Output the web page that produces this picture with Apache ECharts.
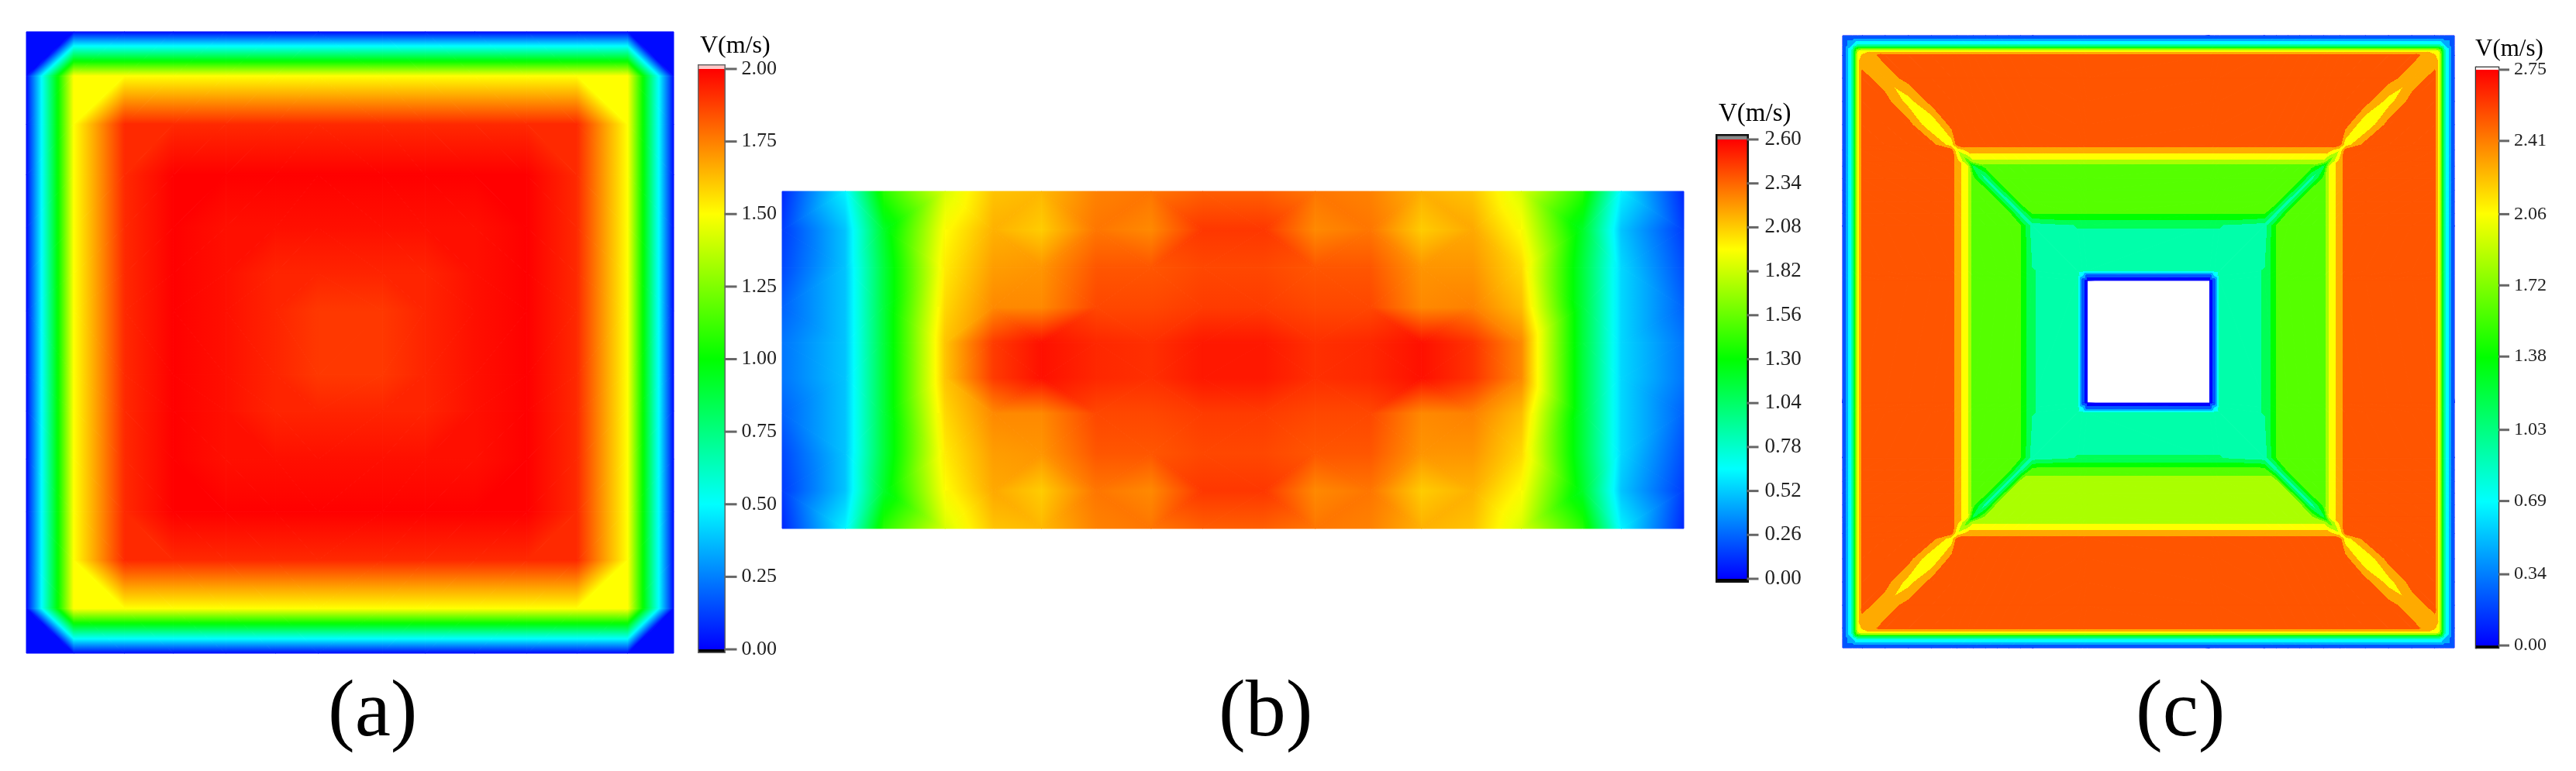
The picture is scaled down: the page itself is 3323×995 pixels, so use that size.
<!DOCTYPE html>
<html>
<head>
<meta charset="utf-8">
<title>V(m/s)</title>
<script src="https://cdn.jsdelivr.net/npm/echarts@6/dist/echarts.min.js"></script>
<style>
  html, body { margin: 0; background: #fff; }
  #chart { width: 3323px; height: 995px; filter: blur(0.7px); }
</style>
</head>
<body>
<div id="chart"></div>
<script>
// colour scale shared by the three panels
const JET = ['#0000ff', '#00ffff', '#00ff00', '#ffff00', '#ff0000'];

// colour bar ticks
const A_TICKS = [0, 0.25, 0.5, 0.75, 1, 1.25, 1.5, 1.75, 2];
const B_TICKS = [0, 0.26, 0.52, 0.78, 1.04, 1.3, 1.56, 1.82, 2.08, 2.34, 2.6];
const C_TICKS = [0, 0.34, 0.69, 1.03, 1.38, 1.72, 2.06, 2.41, 2.75];

// panel (a): mesh lines and nodal velocity
const A_XS = [55, 155, 262, 365, 475, 580, 670, 805, 895, 1000, 1110, 1215, 1322, 1419];
const A_YS = [33, 125, 225, 330, 440, 535, 612, 745, 820, 920, 1030, 1130, 1230, 1323];
const A_V = [
  [.02,.02,.02,.02,.02,.02,.02,.02,.02,.02,.02,.02,.02,.02],
  [.02,1.5,1.5,1.5,1.5,1.5,1.5,1.5,1.5,1.5,1.5,1.5,1.5,.02],
  [.02,1.5,1.92,1.92,1.92,1.92,1.92,1.92,1.92,1.92,1.92,1.92,1.5,.02],
  [.02,1.5,1.92,2,2,2,2,2,2,2,2,1.92,1.5,.02],
  [.02,1.5,1.92,2,1.97,1.97,1.97,1.97,1.97,1.97,2,1.92,1.5,.02],
  [.02,1.5,1.92,2,1.97,1.93,1.93,1.93,1.93,1.97,2,1.92,1.5,.02],
  [.02,1.5,1.92,2,1.97,1.93,1.89,1.89,1.93,1.97,2,1.92,1.5,.02],
  [.02,1.5,1.92,2,1.97,1.93,1.89,1.89,1.93,1.97,2,1.92,1.5,.02],
  [.02,1.5,1.92,2,1.97,1.93,1.93,1.93,1.93,1.97,2,1.92,1.5,.02],
  [.02,1.5,1.92,2,1.97,1.97,1.97,1.97,1.97,1.97,2,1.92,1.5,.02],
  [.02,1.5,1.92,2,2,2,2,2,2,2,2,1.92,1.5,.02],
  [.02,1.5,1.92,1.92,1.92,1.92,1.92,1.92,1.92,1.92,1.92,1.92,1.5,.02],
  [.02,1.5,1.5,1.5,1.5,1.5,1.5,1.5,1.5,1.5,1.5,1.5,1.5,.02],
  [.02,.02,.02,.02,.02,.02,.02,.02,.02,.02,.02,.02,.02,.02]
];

// panel (b)
const B_XS = [37, 135, 195, 290, 365, 440, 525, 610, 690, 785, 865, 950, 1030, 1110, 1185, 1280, 1340, 1437];
const B_YS = [258, 345, 430, 520, 600, 680, 760, 850, 935, 1020];
const B_V = [
  [.1,.62,1.4,1.85,2.1,2.13,2.27,2.3,2.36,2.36,2.3,2.27,2.15,2.1,1.85,1.4,.62,.1],
  [.15,.5,1.2,1.95,2.15,2.08,2.3,2.25,2.46,2.46,2.25,2.3,2.08,2.17,1.95,1.2,.5,.15],
  [.18,.5,1.15,2,2.2,2.22,2.38,2.38,2.42,2.42,2.38,2.38,2.22,2.22,2.05,1.15,.55,.2],
  [.25,.5,1.15,2.05,2.25,2.25,2.42,2.42,2.45,2.45,2.42,2.42,2.25,2.27,2.12,1.15,.55,.25],
  [.3,.5,1.15,2.1,2.45,2.56,2.5,2.48,2.54,2.54,2.48,2.5,2.56,2.47,2.25,1.15,.55,.3],
  [.3,.5,1.15,2.1,2.45,2.56,2.5,2.48,2.54,2.54,2.48,2.5,2.56,2.47,2.25,1.15,.55,.3],
  [.25,.5,1.15,2.05,2.25,2.25,2.42,2.42,2.45,2.45,2.42,2.42,2.25,2.27,2.12,1.15,.55,.25],
  [.18,.5,1.15,2,2.2,2.22,2.38,2.38,2.42,2.42,2.38,2.38,2.22,2.22,2.05,1.15,.55,.2],
  [.15,.5,1.2,1.95,2.17,2.08,2.3,2.25,2.46,2.46,2.25,2.3,2.08,2.15,1.95,1.2,.5,.15],
  [.1,.62,1.4,1.85,2.1,2.13,2.27,2.3,2.36,2.36,2.3,2.27,2.15,2.1,1.85,1.4,.62,.1]
];

// panel (c): lines measured from the centre of the square, hole in the middle cell
const C_XS = [-394.5,-382,-375,-369.5,-340,-310,-280,-254,-247,-233,-226,-210,-195,-180,-165,-150,-92,-85,-79,
              79,85,92,150,165,180,195,210,226,233,247,254,280,310,340,369.5,375,382,394.5];
const C_YS = C_XS;
const C_HOLE = [18, 18];
const C_V = [
  [.1,.1,.1,.1,.1,.1,.1,.1,.1,.1, .1,.1,.1,.1,.1,.1,.1,.1,.1,.1, .1,.1,.1,.1,.1,.1,.1,.1,.1,.1, .1,.1,.1,.1,.1,.1,.1,.1],
  [.1,.6, .9,.9,.9,.9,.9,.9,.9,.9,.9,.9, .9,.9,.9,.9,.9,.9,.9,.9,.9,.9, .9,.9,.9,.9,.9,.9,.9,.9,.9,.9, .9,.9,.9,.9, .6,.1],
  [.1,.9,1.9, 2.06,2.06,2.06,2.06,2.06,2.06,2.06,2.06,2.06,2.06, 2.06,2.06,2.06,2.06,2.06,2.06,2.06,2.06,2.06,2.06, 2.06,2.06,2.06,2.06,2.06,2.06,2.06,2.06,2.06,2.06, 2.06,2.06, 1.9,.9,.1],
  [.1,.9,2.06,2.2, 2.52,2.52,2.52,2.52,2.52,2.52,2.52,2.52,2.52,2.52, 2.52,2.52,2.52,2.52,2.52,2.52,2.52,2.52,2.52,2.52, 2.52,2.52,2.52,2.52,2.52,2.52,2.52,2.52,2.52,2.52, 2.2,2.06,.9,.1],
  [.1,.9,2.06,2.52,2.25, 2.52,2.52,2.52,2.52,2.52,2.52,2.52,2.52,2.52,2.52, 2.52,2.52,2.52,2.52,2.52,2.52,2.52,2.52,2.52,2.52, 2.52,2.52,2.52,2.52,2.52,2.52,2.52,2.52, 2.25,2.52,2.06,.9,.1],
  [.1,.9,2.06,2.52,2.52,2.08, 2.52,2.52,2.52,2.52,2.52,2.52,2.52,2.52,2.52,2.52, 2.52,2.52,2.52,2.52,2.52,2.52,2.52,2.52,2.52,2.52, 2.52,2.52,2.52,2.52,2.52,2.52, 2.08,2.52,2.52,2.06,.9,.1],
  [.1,.9,2.06,2.52,2.52,2.52,1.95, 2.52,2.52,2.52,2.52,2.52,2.52,2.52,2.52,2.52,2.52, 2.52,2.52,2.52,2.52,2.52,2.52,2.52,2.52,2.52,2.52, 2.52,2.52,2.52,2.52, 1.95,2.52,2.52,2.52,2.06,.9,.1],
  [.1,.9,2.06,2.52,2.52,2.52,2.52,2.05, 2.52,2.52,2.52,2.52,2.52,2.52,2.52,2.52,2.52,2.52, 2.52,2.52,2.52,2.52,2.52,2.52,2.52,2.52,2.52,2.52, 2.52,2.52, 2.05,2.52,2.52,2.52,2.52,2.06,.9,.1],
  [.1,.9,2.06,2.52,2.52,2.52,2.52,2.52,2, 2.29,2.29,2.29,2.29,2.29,2.29,2.29,2.29,2.29,2.29, 2.29,2.29,2.29,2.29,2.29,2.29,2.29,2.29,2.29,2.29, 2,2.52,2.52,2.52,2.52,2.52,2.06,.9,.1],
  [.1,.9,2.06,2.52,2.52,2.52,2.52,2.52,2.29,1.6, 1.9,1.9,1.9,1.9,1.9,1.9,1.9,1.9,1.9, 1.9,1.9,1.9,1.9,1.9,1.9,1.9,1.9,1.9, 1.6,2.29,2.52,2.52,2.52,2.52,2.52,2.06,.9,.1],
  [.1,.9,2.06,2.52,2.52,2.52,2.52,2.52,2.29,2,1.2, 1.6,1.6,1.6,1.6,1.6,1.6,1.6,1.6, 1.6,1.6,1.6,1.6,1.6,1.6,1.6,1.6, 1.2,2,2.29,2.52,2.52,2.52,2.52,2.52,2.06,.9,.1],
  [.1,.9,2.06,2.52,2.52,2.52,2.52,2.52,2.29,2,1.6,.95, 1.6,1.6,1.6,1.6,1.6,1.6,1.6, 1.6,1.6,1.6,1.6,1.6,1.6,1.6, .95,1.6,2,2.29,2.52,2.52,2.52,2.52,2.52,2.06,.9,.1],
  [.1,.9,2.06,2.52,2.52,2.52,2.52,2.52,2.29,2,1.6,1.6,.95, 1.6,1.6,1.6,1.6,1.6,1.6, 1.6,1.6,1.6,1.6,1.6,1.6, .95,1.6,1.6,2,2.29,2.52,2.52,2.52,2.52,2.52,2.06,.9,.1],
  [.1,.9,2.06,2.52,2.52,2.52,2.52,2.52,2.29,2,1.6,1.6,1.6,.92, 1.6,1.6,1.6,1.6,1.6, 1.6,1.6,1.6,1.6,1.6, .92,1.6,1.6,1.6,2,2.29,2.52,2.52,2.52,2.52,2.52,2.06,.9,.1],
  [.1,.9,2.06,2.52,2.52,2.52,2.52,2.52,2.29,2,1.6,1.6,1.6,1.6,.92, 1.5,1.5,1.5,1.5, 1.5,1.5,1.5,1.5, .92,1.6,1.6,1.6,1.6,2,2.29,2.52,2.52,2.52,2.52,2.52,2.06,.9,.1],
  [.1,.9,2.06,2.52,2.52,2.52,2.52,2.52,2.29,2,1.6,1.6,1.6,1.6,1.5,.92, 1.04,1.04,1.04, 1.04,1.04,1.04, .92,1.5,1.6,1.6,1.6,1.6,2,2.29,2.52,2.52,2.52,2.52,2.52,2.06,.9,.1],
  [.1,.9,2.06,2.52,2.52,2.52,2.52,2.52,2.29,2,1.6,1.6,1.6,1.6,1.5,1.04,.92, .92,.92, .92,.92, .92,1.04,1.5,1.6,1.6,1.6,1.6,2,2.29,2.52,2.52,2.52,2.52,2.52,2.06,.9,.1],
  [.1,.9,2.06,2.52,2.52,2.52,2.52,2.52,2.29,2,1.6,1.6,1.6,1.6,1.5,1.04,.92,.6, .15, .15, .6,.92,1.04,1.5,1.6,1.6,1.6,1.6,2,2.29,2.52,2.52,2.52,2.52,2.52,2.06,.9,.1],
  [.1,.9,2.06,2.52,2.52,2.52,2.52,2.52,2.29,2,1.6,1.6,1.6,1.6,1.5,1.04,.92,.15,.05, .05,.15,.92,1.04,1.5,1.6,1.6,1.6,1.6,2,2.29,2.52,2.52,2.52,2.52,2.52,2.06,.9,.1],
  [.1,.9,2.06,2.52,2.52,2.52,2.52,2.52,2.29,2,1.6,1.6,1.6,1.6,1.5,1.04,.92,.15,.05, .05,.15,.92,1.04,1.5,1.6,1.6,1.6,1.6,2,2.29,2.52,2.52,2.52,2.52,2.52,2.06,.9,.1],
  [.1,.9,2.06,2.52,2.52,2.52,2.52,2.52,2.29,2,1.6,1.6,1.6,1.6,1.5,1.04,.92,.6, .15, .15, .6,.92,1.04,1.5,1.6,1.6,1.6,1.6,2,2.29,2.52,2.52,2.52,2.52,2.52,2.06,.9,.1],
  [.1,.9,2.06,2.52,2.52,2.52,2.52,2.52,2.29,2,1.6,1.6,1.6,1.6,1.5,1.04,.92, .92,.92, .92,.92, .92,1.04,1.5,1.6,1.6,1.6,1.6,2,2.29,2.52,2.52,2.52,2.52,2.52,2.06,.9,.1],
  [.1,.9,2.06,2.52,2.52,2.52,2.52,2.52,2.29,2,1.6,1.6,1.6,1.6,1.5,.92, 1.04,1.04,1.04, 1.04,1.04,1.04, .92,1.5,1.6,1.6,1.6,1.6,2,2.29,2.52,2.52,2.52,2.52,2.52,2.06,.9,.1],
  [.1,.9,2.06,2.52,2.52,2.52,2.52,2.52,2.29,2,1.6,1.6,1.6,1.6,.92, 1.6,1.6,1.6,1.6, 1.6,1.6,1.6,1.6, .92,1.6,1.6,1.6,1.6,2,2.29,2.52,2.52,2.52,2.52,2.52,2.06,.9,.1],
  [.1,.9,2.06,2.52,2.52,2.52,2.52,2.52,2.29,2,1.6,1.6,1.6,.92, 1.83,1.83,1.83,1.83,1.83, 1.83,1.83,1.83,1.83,1.83, .92,1.6,1.6,1.6,2,2.29,2.52,2.52,2.52,2.52,2.52,2.06,.9,.1],
  [.1,.9,2.06,2.52,2.52,2.52,2.52,2.52,2.29,2,1.6,1.6,.95, 1.83,1.83,1.83,1.83,1.83,1.83, 1.83,1.83,1.83,1.83,1.83,1.83, .95,1.6,1.6,2,2.29,2.52,2.52,2.52,2.52,2.52,2.06,.9,.1],
  [.1,.9,2.06,2.52,2.52,2.52,2.52,2.52,2.29,2,1.6,.95, 1.83,1.83,1.83,1.83,1.83,1.83,1.83, 1.83,1.83,1.83,1.83,1.83,1.83,1.83, .95,1.6,2,2.29,2.52,2.52,2.52,2.52,2.52,2.06,.9,.1],
  [.1,.9,2.06,2.52,2.52,2.52,2.52,2.52,2.29,2,1.2, 1.83,1.83,1.83,1.83,1.83,1.83,1.83,1.83, 1.83,1.83,1.83,1.83,1.83,1.83,1.83,1.83, 1.2,2,2.29,2.52,2.52,2.52,2.52,2.52,2.06,.9,.1],
  [.1,.9,2.06,2.52,2.52,2.52,2.52,2.52,2.29,1.6, 1.9,1.9,1.9,1.9,1.9,1.9,1.9,1.9,1.9, 1.9,1.9,1.9,1.9,1.9,1.9,1.9,1.9,1.9, 1.6,2.29,2.52,2.52,2.52,2.52,2.52,2.06,.9,.1],
  [.1,.9,2.06,2.52,2.52,2.52,2.52,2.52,2, 2.29,2.29,2.29,2.29,2.29,2.29,2.29,2.29,2.29,2.29, 2.29,2.29,2.29,2.29,2.29,2.29,2.29,2.29,2.29,2.29, 2,2.52,2.52,2.52,2.52,2.52,2.06,.9,.1],
  [.1,.9,2.06,2.52,2.52,2.52,2.52,2.05, 2.52,2.52,2.52,2.52,2.52,2.52,2.52,2.52,2.52,2.52, 2.52,2.52,2.52,2.52,2.52,2.52,2.52,2.52,2.52,2.52, 2.52,2.52, 2.05,2.52,2.52,2.52,2.52,2.06,.9,.1],
  [.1,.9,2.06,2.52,2.52,2.52,1.95, 2.52,2.52,2.52,2.52,2.52,2.52,2.52,2.52,2.52,2.52, 2.52,2.52,2.52,2.52,2.52,2.52,2.52,2.52,2.52,2.52, 2.52,2.52,2.52,2.52, 1.95,2.52,2.52,2.52,2.06,.9,.1],
  [.1,.9,2.06,2.52,2.52,2.08, 2.52,2.52,2.52,2.52,2.52,2.52,2.52,2.52,2.52,2.52, 2.52,2.52,2.52,2.52,2.52,2.52,2.52,2.52,2.52,2.52, 2.52,2.52,2.52,2.52,2.52,2.52, 2.08,2.52,2.52,2.06,.9,.1],
  [.1,.9,2.06,2.52,2.25, 2.52,2.52,2.52,2.52,2.52,2.52,2.52,2.52,2.52,2.52, 2.52,2.52,2.52,2.52,2.52,2.52,2.52,2.52,2.52,2.52, 2.52,2.52,2.52,2.52,2.52,2.52,2.52,2.52, 2.25,2.52,2.06,.9,.1],
  [.1,.9,2.06,2.2, 2.52,2.52,2.52,2.52,2.52,2.52,2.52,2.52,2.52,2.52, 2.52,2.52,2.52,2.52,2.52,2.52,2.52,2.52,2.52,2.52, 2.52,2.52,2.52,2.52,2.52,2.52,2.52,2.52,2.52,2.52, 2.2,2.06,.9,.1],
  [.1,.9,1.9, 2.06,2.06,2.06,2.06,2.06,2.06,2.06,2.06,2.06,2.06, 2.06,2.06,2.06,2.06,2.06,2.06,2.06,2.06,2.06,2.06, 2.06,2.06,2.06,2.06,2.06,2.06,2.06,2.06,2.06,2.06, 2.06,2.06, 1.9,.9,.1],
  [.1,.6, .9,.9,.9,.9,.9,.9,.9,.9,.9,.9, .9,.9,.9,.9,.9,.9,.9,.9,.9,.9, .9,.9,.9,.9,.9,.9,.9,.9,.9,.9, .9,.9,.9,.9, .6,.1],
  [.1,.1,.1,.1,.1,.1,.1,.1,.1,.1, .1,.1,.1,.1,.1,.1,.1,.1,.1,.1, .1,.1,.1,.1,.1,.1,.1,.1,.1,.1, .1,.1,.1,.1,.1,.1,.1,.1]
];

const panels = [
  { xs: A_XS, ys: A_YS, v: A_V, ticks: A_TICKS, split: 'across', levels: 0,
    rect: { left: 34, top: 41, width: 835, height: 802 },
    bar: { left: 901.5, top: 84.5, width: 33, height: 757, over: 0.012, under: 0.0093, frame: '#666', frameWidth: 3, cap: '#ffc8c8' },
    fontSize: 26, tickLen: 16, labelGap: 22,
    name: { text: 'V(m/s)', left: 903, top: 44, size: 32 },
    tag: { text: '(a)', left: 423, top: 870 } },
  { xs: B_XS, ys: B_YS, v: B_V, ticks: B_TICKS, split: 'jack', levels: 0,
    rect: { left: 1009, top: 247, width: 1163, height: 435 },
    bar: { left: 2215.5, top: 175.5, width: 38, height: 574, over: 0.0206, under: 0.0115, frame: '#111', frameWidth: 5, cap: '#888' },
    fontSize: 27, tickLen: 15, labelGap: 23,
    name: { text: 'V(m/s)', left: 2217, top: 131, size: 33 },
    tag: { text: '(b)', left: 1572, top: 870 } },
  { xs: C_XS, ys: C_YS, v: C_V, ticks: C_TICKS, split: 'along', levels: 12, hole: C_HOLE,
    rect: { left: 2377, top: 46, width: 789, height: 790 },
    bar: { left: 3194, top: 87, width: 29, height: 749, over: 0.011, under: 0.011, frame: '#333', frameWidth: 2.5, cap: '#fff' },
    fontSize: 24, tickLen: 14, labelGap: 20,
    name: { text: 'V(m/s)', left: 3193, top: 48, size: 31 },
    tag: { text: '(c)', left: 2755, top: 870 } }
];

const FONT = '"Liberation Serif", serif';

// true when the cell is cut from its top-left node to its bottom-right node
function cutsMainDiagonal(i, j, nx, ny, rule) {
  const left = i + 0.5 < (nx - 1) / 2;
  const top = j + 0.5 < (ny - 1) / 2;
  const radial = left === top;
  if (rule === 'along') return radial;
  if (rule === 'across') return !radial;
  const ci = Math.min(i, nx - 2 - i);
  const cj = Math.min(j, ny - 2 - j);
  return (ci + cj) % 2 === 0 ? !radial : radial;
}

function colorOf(t, levels) {
  if (levels) t = Math.round(t * levels) / levels;
  return echarts.color.lerp(Math.min(1, Math.max(0, t)), JET);
}

function rampStops(lo, hi, max, levels) {
  const stops = [];
  if (levels) {
    stops.push({ offset: 0, color: colorOf(lo / max, levels) });
    for (let k = 0; k < levels; k++) {
      const edge = (k + 0.5) / levels * max;
      if (edge > lo && edge < hi) {
        const offset = (edge - lo) / (hi - lo);
        stops.push({ offset: offset, color: colorOf(k / levels, levels) });
        stops.push({ offset: offset, color: colorOf((k + 1) / levels, levels) });
      }
    }
    stops.push({ offset: 1, color: colorOf(hi / max, levels) });
  } else {
    const n = Math.ceil((hi - lo) / max * 32) + 1;
    for (let s = 0; s <= n; s++) {
      stops.push({ offset: s / n, color: colorOf((lo + (hi - lo) * s / n) / max, 0) });
    }
  }
  return stops;
}

// nodal values are linear over a triangle, so one linear gradient paints it exactly
function triangle(pts, vals, max, levels) {
  const lo = Math.min(vals[0], vals[1], vals[2]);
  const hi = Math.max(vals[0], vals[1], vals[2]);
  let fill;
  if (hi - lo < 1e-6) {
    fill = colorOf(lo / max, levels);
  } else {
    const [p0, p1, p2] = pts;
    const det = (p1[0] - p0[0]) * (p2[1] - p0[1]) - (p2[0] - p0[0]) * (p1[1] - p0[1]);
    const gx = ((vals[1] - vals[0]) * (p2[1] - p0[1]) - (vals[2] - vals[0]) * (p1[1] - p0[1])) / det;
    const gy = ((p1[0] - p0[0]) * (vals[2] - vals[0]) - (p2[0] - p0[0]) * (vals[1] - vals[0])) / det;
    const g2 = gx * gx + gy * gy;
    const start = pts[vals.indexOf(lo)];
    const k = (hi - lo) / g2;
    fill = new echarts.graphic.LinearGradient(
      start[0], start[1], start[0] + gx * k, start[1] + gy * k,
      rampStops(lo, hi, max, levels), true);
  }
  return {
    type: 'polygon',
    shape: { points: pts },
    style: { fill: fill, stroke: fill, lineWidth: 1, lineJoin: 'round' },
    silent: true
  };
}

function meshSeries(p, idx) {
  const max = p.ticks[p.ticks.length - 1];
  const nx = p.xs.length;
  const ny = p.ys.length;
  const cells = [];
  for (let j = 0; j < ny - 1; j++) {
    for (let i = 0; i < nx - 1; i++) {
      if (p.hole && p.hole[0] === i && p.hole[1] === j) continue;
      cells.push([p.xs[i], p.ys[j], i, j]);
    }
  }
  return {
    type: 'custom',
    xAxisIndex: idx,
    yAxisIndex: idx,
    animation: false,
    silent: true,
    progressive: 0,
    data: cells,
    renderItem: function (params, api) {
      const i = api.value(2);
      const j = api.value(3);
      const node = (a, b) => api.coord([p.xs[a], p.ys[b]]);
      const tl = node(i, j), tr = node(i + 1, j), bl = node(i, j + 1), br = node(i + 1, j + 1);
      const vtl = p.v[j][i], vtr = p.v[j][i + 1], vbl = p.v[j + 1][i], vbr = p.v[j + 1][i + 1];
      const children = cutsMainDiagonal(i, j, nx, ny, p.split)
        ? [triangle([tl, tr, br], [vtl, vtr, vbr], max, p.levels),
           triangle([tl, br, bl], [vtl, vbr, vbl], max, p.levels)]
        : [triangle([tl, tr, bl], [vtl, vtr, vbl], max, p.levels),
           triangle([tr, br, bl], [vtr, vbr, vbl], max, p.levels)];
      return { type: 'group', children: children };
    }
  };
}

function barSeries(p, idx) {
  const max = p.ticks[p.ticks.length - 1];
  const ramp = new echarts.graphic.LinearGradient(0, 0, 0, 1,
    JET.slice().reverse().map((c, k) => ({ offset: k / (JET.length - 1), color: c })));
  const fills = [p.bar.cap, ramp, '#000'];
  return {
    type: 'custom',
    xAxisIndex: idx,
    yAxisIndex: idx,
    animation: false,
    silent: true,
    data: [[0, max + p.bar.over, max, 0], [0, max, 0, 1], [0, 0, -p.bar.under, 2]],
    encode: { x: 0, y: [1, 2] },
    renderItem: function (params, api) {
      const a = api.coord([0, api.value(1)]);
      const b = api.coord([1, api.value(2)]);
      return {
        type: 'rect',
        shape: { x: a[0], y: a[1], width: b[0] - a[0], height: b[1] - a[1] },
        style: { fill: fills[api.value(3)] }
      };
    }
  };
}

// the axis draws its labels, the tick marks come from the same values here
function tickSeries(p, idx) {
  return {
    type: 'custom',
    xAxisIndex: idx,
    yAxisIndex: idx,
    animation: false,
    silent: true,
    clip: false,
    data: p.ticks.map(t => [1, t]),
    renderItem: function (params, api) {
      const a = api.coord([1, api.value(1)]);
      return {
        type: 'line',
        shape: { x1: a[0], y1: a[1], x2: a[0] + p.tickLen, y2: a[1] },
        style: { stroke: '#666', lineWidth: 3 }
      };
    }
  };
}

const n = panels.length;
const option = {
  backgroundColor: '#fff',
  animation: false,
  tooltip: { show: false },
  title: panels.flatMap(p => [
    { text: p.name.text, left: p.name.left, top: p.name.top, padding: 0,
      textStyle: { fontFamily: FONT, fontWeight: 'normal', fontSize: p.name.size, color: '#000' } },
    { text: p.tag.text, left: p.tag.left, top: p.tag.top, padding: 0,
      textStyle: { fontFamily: FONT, fontWeight: 'normal', fontSize: 104, color: '#000' } }
  ]),
  grid: panels.map(p => Object.assign({ containLabel: false }, p.rect))
    .concat(panels.map(p => ({
      left: p.bar.left, top: p.bar.top, width: p.bar.width, height: p.bar.height,
      show: true, backgroundColor: '#fff', borderColor: p.bar.frame, borderWidth: p.bar.frameWidth
    }))),
  xAxis: panels.map((p, k) => ({
    type: 'value', gridIndex: k, show: false,
    min: p.xs[0], max: p.xs[p.xs.length - 1]
  })).concat(panels.map((p, k) => ({
    type: 'value', gridIndex: n + k, show: false, min: 0, max: 1
  }))),
  yAxis: panels.map((p, k) => ({
    type: 'value', gridIndex: k, show: false, inverse: true,
    min: p.ys[0], max: p.ys[p.ys.length - 1]
  })).concat(panels.map((p, k) => {
    const max = p.ticks[p.ticks.length - 1];
    return {
      type: 'value', gridIndex: n + k, position: 'right',
      min: -p.bar.under, max: max + p.bar.over,
      splitLine: { show: false },
      axisLine: { show: true, lineStyle: { color: p.bar.frame, width: p.bar.frameWidth } },
      axisTick: { show: false },
      axisLabel: {
        show: true, customValues: p.ticks, margin: p.labelGap,
        fontFamily: FONT, fontSize: p.fontSize, color: '#222',
        formatter: v => v.toFixed(2)
      }
    };
  })),
  series: panels.map(meshSeries)
    .concat(panels.map((p, k) => barSeries(p, n + k)))
    .concat(panels.map((p, k) => tickSeries(p, n + k)))
};

const chart = echarts.init(document.getElementById('chart'));
chart.setOption(option);
</script>
</body>
</html>
